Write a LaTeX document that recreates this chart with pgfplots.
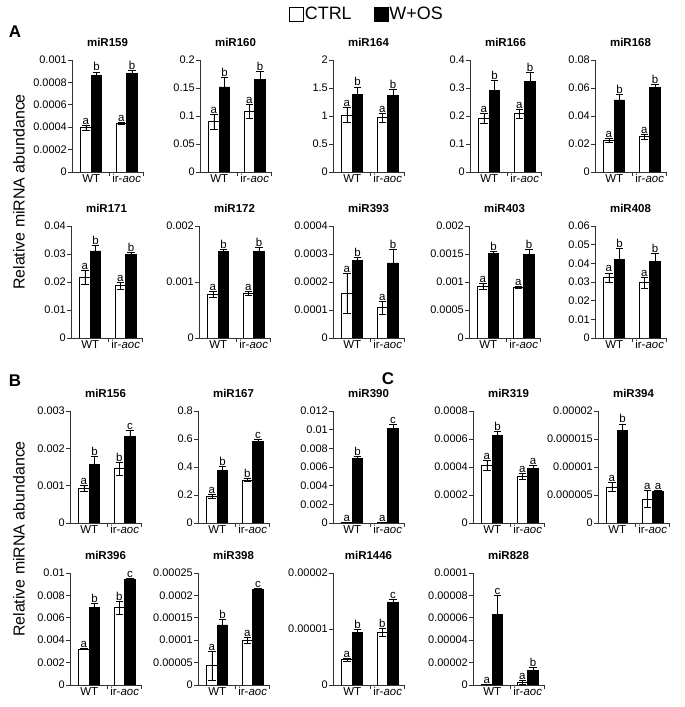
\documentclass[border=0pt]{standalone}
\usepackage{fontspec}
\setmainfont{Liberation Sans}
\usepackage{pgfplots}
\usepackage{pgfplotstable}
\pgfplotsset{compat=1.18}

\newcommand\tickfont{\fontsize{11}{13}\selectfont}
\newcommand\xfont{\fontsize{11.5}{13}\selectfont}
\newcommand\titlefont{\fontsize{11.5}{13}\selectfont}
\newcommand\letfont{\fontsize{11.5}{13}\selectfont}

\pgfplotsset{
  mir/.style={
    scale only axis, width=71bp, height=112bp, anchor=south west,
    xmin=0.46, xmax=2.46, ymin=0,
    axis x line*=bottom, axis y line*=left,
    axis line style={line width=0.7bp, black!80},
    tick align=outside, major tick length=4bp,
    tick style={line width=0.7bp, black!80},
    xtick={1.5,2.46}, xticklabels={},
    extra x ticks={1,2}, extra x tick labels={WT,ir-\textit{aoc}},
    extra x tick style={tick style={draw=none}, tick label style={yshift=3bp}},
    xticklabel style={font=\xfont, inner sep=1bp},
    yticklabel style={font=\tickfont, inner sep=1bp,
      /pgf/number format/fixed, /pgf/number format/precision=6,
      /pgf/number format/assume math mode=true},
    scaled y ticks=false,
    title style={font=\bfseries\titlefont, at={(0.5,1)}, anchor=base, yshift=8bp, inner sep=0pt},
  },
  errb/.style={
    error bars/y dir=both, error bars/y explicit,
    error bars/error bar style={line width=0.6bp, black},
    error bars/error mark options={rotate=90, mark size=3.8bp, line width=0.6bp, black}},
  lets/.style={draw=none, mark=none, nodes near coords, point meta=explicit symbolic,
    every node near coord/.append style={anchor=south, font=\letfont, inner sep=0.6bp}},
}

% x: 1 = WT, 2 = ir-aoc ; c = CTRL, w = W+OS ; ce/we = error ; lc/lw = letters
\pgfplotstableread{
x c ce w we lc lw
1 0.000395 0.000022 0.000864 0.00003 a b
2 0.000434 0.00001 0.000881 0.00003 a b
}\dA
\pgfplotstableread{
x c ce w we lc lw
1 0.090 0.013 0.152 0.017 a b
2 0.108 0.013 0.166 0.014 a b
}\dB
\pgfplotstableread{
x c ce w we lc lw
1 1.02 0.13 1.38 0.14 a b
2 0.97 0.08 1.37 0.10 a b
}\dC
\pgfplotstableread{
x c ce w we lc lw
1 0.192 0.019 0.290 0.037 a b
2 0.208 0.016 0.323 0.032 a b
}\dD
\pgfplotstableread{
x c ce w we lc lw
1 0.0224 0.0015 0.0515 0.004 a b
2 0.0254 0.0018 0.0602 0.0022 a b
}\dE
\pgfplotstableread{
x c ce w we lc lw
1 0.0218 0.0025 0.0311 0.0020 a b
2 0.0187 0.0013 0.0298 0.0007 a b
}\dF
\pgfplotstableread{
x c ce w we lc lw
1 0.00078 0.00006 0.00154 0.00005 a b
2 0.00080 0.00003 0.00154 0.00008 a b
}\dG
\pgfplotstableread{
x c ce w we lc lw
1 0.00016 0.000072 0.000278 0.00001 a b
2 0.000108 0.000024 0.000268 0.00005 a b
}\dH
\pgfplotstableread{
x c ce w we lc lw
1 0.00092 0.00005 0.00151 0.00004 a b
2 0.00090 0.00002 0.00149 0.0001 a b
}\dI
\pgfplotstableread{
x c ce w we lc lw
1 0.0324 0.0025 0.0422 0.0057 a b
2 0.0296 0.0028 0.0410 0.0042 a b
}\dJ
\pgfplotstableread{
x c ce w we lc lw
1 0.00093 0.00008 0.00158 0.0002 a b
2 0.00146 0.00017 0.00233 0.00015 b c
}\dK
\pgfplotstableread{
x c ce w we lc lw
1 0.188 0.015 0.374 0.03 a b
2 0.306 0.010 0.581 0.017 b c
}\dL
\pgfplotstableread{
x c ce w we lc lw
1 0.00008 0.00002 0.0069 0.0002 a b
2 0.00008 0.00002 0.0101 0.00045 a c
}\dM
\pgfplotstableread{
x c ce w we lc lw
1 0.000415 0.000035 0.000628 0.000024 a b
2 0.000335 0.000022 0.000388 0.000022 a a
}\dN
\pgfplotstableread{
x c ce w we lc lw
1 0.0000064 0.0000008 0.0000166 0.0000011 a b
2 0.0000043 0.0000015 0.0000056 0.0000003 a a
}\dO
\pgfplotstableread{
x c ce w we lc lw
1 0.00322 0.00005 0.0069 0.0004 a b
2 0.0069 0.0006 0.0094 0.00015 b c
}\dP
\pgfplotstableread{
x c ce w we lc lw
1 0.000043 0.000033 0.000134 0.000013 a b
2 0.000100 0.000006 0.000213 0.000002 a c
}\dQ
\pgfplotstableread{
x c ce w we lc lw
1 0.0000045 0.0000002 0.0000094 0.0000005 a b
2 0.0000094 0.0000007 0.0000148 0.0000005 b c
}\dR
\pgfplotstableread{
x c ce w we lc lw
1 0.0000003 0.0000001 0.000063 0.000017 a c
2 0.0000024 0.0000015 0.0000133 0.0000024 a b
}\dS

% #1 left, #2 bottom (bp), #3 title, #4 ymax, #5 yticks, #6 table
\newcommand\panel[6]{%
  \begin{axis}[mir, at={(#1bp,#2bp)}, title={#3}, ymax=#4, ytick={#5}]
    \addplot[ybar, bar width=0.3, fill=white, draw=black, line width=0.7bp, errb]
      table[x expr=\thisrow{x}-0.15, y=c, y error=ce] {#6};
    \addplot[ybar, bar width=0.3, fill=black, draw=black, line width=0.7bp, errb]
      table[x expr=\thisrow{x}+0.15, y=w, y error=we] {#6};
    \addplot[lets] table[x expr=\thisrow{x}-0.15, y expr=\thisrow{c}+\thisrow{ce}, meta=lc] {#6};
    \addplot[lets] table[x expr=\thisrow{x}+0.15, y expr=\thisrow{w}+\thisrow{we}, meta=lw] {#6};
  \end{axis}}

\begin{document}
\begin{tikzpicture}
\useasboundingbox (0,0) rectangle (685bp,707bp);

% legend
\begin{axis}[hide axis, scale only axis, width=685bp, height=707bp, at={(0,0)}, anchor=south west,
  xmin=0, xmax=1, ymin=0, ymax=1, legend columns=2,
  legend style={at={(0.4175,0.9795)}, anchor=west, draw=none, fill=none,
    font=\fontsize{18}{20}\selectfont, nodes={inner sep=1bp},
    /tikz/every even column/.append style={column sep=21bp}},
  legend image code/.code={\draw[#1, line width=0.7bp] (0bp,-7bp) rectangle (14bp,7bp);}]
  \addlegendimage{fill=white, draw=black}
  \addlegendentry{CTRL}
  \addlegendimage{fill=black, draw=black}
  \addlegendentry{W+OS}
\end{axis}

% panel A
\panel{72}{535}{miR159}{0.001}{0,0.0002,0.0004,0.0006,0.0008,0.001}{\dA}
\panel{200}{535}{miR160}{0.2}{0,0.05,0.1,0.15,0.2}{\dB}
\panel{333}{535}{miR164}{2}{0,0.5,1,1.5,2}{\dC}
\panel{470}{535}{miR166}{0.4}{0,0.1,0.2,0.3,0.4}{\dD}
\panel{595}{535}{miR168}{0.08}{0,0.02,0.04,0.06,0.08}{\dE}
\panel{71}{369}{miR171}{0.04}{0,0.01,0.02,0.03,0.04}{\dF}
\panel{199}{369}{miR172}{0.002}{0,0.001,0.002}{\dG}
\panel{333}{369}{miR393}{0.0004}{0,0.0001,0.0002,0.0003,0.0004}{\dH}
\panel{469}{369}{miR403}{0.002}{0,0.0005,0.001,0.0015,0.002}{\dI}
\panel{595}{369}{miR408}{0.06}{0,0.01,0.02,0.03,0.04,0.05,0.06}{\dJ}
% panel B
\panel{70}{184}{miR156}{0.003}{0,0.001,0.002,0.003}{\dK}
\panel{198}{184}{miR167}{0.8}{0,0.2,0.4,0.6,0.8}{\dL}
\panel{333}{184}{miR390}{0.012}{0,0.002,0.004,0.006,0.008,0.01,0.012}{\dM}
\panel{70}{22}{miR396}{0.01}{0,0.002,0.004,0.006,0.008,0.01}{\dP}
\panel{198}{22}{miR398}{0.00025}{0,0.00005,0.0001,0.00015,0.0002,0.00025}{\dQ}
\panel{333}{22}{miR1446}{0.00002}{0,0.00001,0.00002}{\dR}
% panel C
\panel{473}{184}{miR319}{0.0008}{0,0.0002,0.0004,0.0006,0.0008}{\dN}
\panel{598}{184}{miR394}{0.00002}{0,0.000005,0.00001,0.000015,0.00002}{\dO}
\panel{473}{22}{miR828}{0.0001}{0,0.00002,0.00004,0.00006,0.00008,0.0001}{\dS}

\node[font=\bfseries\fontsize{17}{19}\selectfont] at (15bp,675bp) {A};
\node[font=\bfseries\fontsize{17}{19}\selectfont] at (15bp,326bp) {B};
\node[font=\bfseries\fontsize{17}{19}\selectfont] at (388bp,328bp) {C};
\node[rotate=90, font=\fontsize{16}{18}\selectfont] at (19bp,515bp) {Relative miRNA abundance};
\node[rotate=90, font=\fontsize{16}{18}\selectfont] at (19bp,168bp) {Relative miRNA abundance};
\end{tikzpicture}
\end{document}
